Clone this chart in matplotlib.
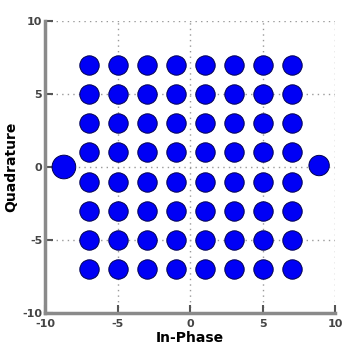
import matplotlib
matplotlib.use("Agg")
import matplotlib.pyplot as plt

# Constellation cluster centres (64-QAM grid + two outer blobs)
levels = [-7, -5, -3, -1, 1, 3, 5, 7]
extra_i = [-8.7, 8.9]
extra_q = [0.0, 0.1]
ticks = [-10, -5, 0, 5, 10]
tick_labels = ["-10", "-5", "0", "5", "10"]

fig = plt.figure(figsize=(3.44, 3.49), dpi=100)
ax = fig.add_axes([0.131, 0.103, 0.843, 0.837])

grid_i = [x for x in levels for _ in levels]
grid_q = [y for _ in levels for y in levels]

ax.scatter(grid_i, grid_q, s=195, c="#0000f5", edgecolors="#000050",
           linewidths=0.7, zorder=3)
ax.scatter(extra_i, extra_q, s=[290, 215], c="#0000f5", edgecolors="#000050",
           linewidths=0.7, zorder=3)

ax.set_xlim(-10, 10)
ax.set_ylim(-10, 10)
ax.set_xticks(ticks)
ax.set_yticks(ticks)
ax.set_xticklabels(tick_labels)
ax.set_yticklabels(tick_labels)
ax.grid(True, linestyle=(0, (1, 3)), color="#999999", linewidth=1.0, zorder=0)

for side in ("top", "right"):
    ax.spines[side].set_visible(False)
for side in ("left", "bottom"):
    ax.spines[side].set_color("#8a8a8a")
    ax.spines[side].set_linewidth(2.5)

ax.tick_params(direction="in", length=6, width=1.5, color="#555555",
               labelsize=8, labelcolor="#444444")
ax.tick_params(axis="x", pad=4)
ax.tick_params(axis="y", pad=2)
for lab in ax.get_xticklabels() + ax.get_yticklabels():
    lab.set_fontweight("bold")

ax.set_xlabel("In-Phase", fontsize=10, fontweight="bold", labelpad=2)
ax.set_ylabel("Quadrature", fontsize=10, fontweight="bold", labelpad=3)

fig.savefig("out.png", dpi=100)
